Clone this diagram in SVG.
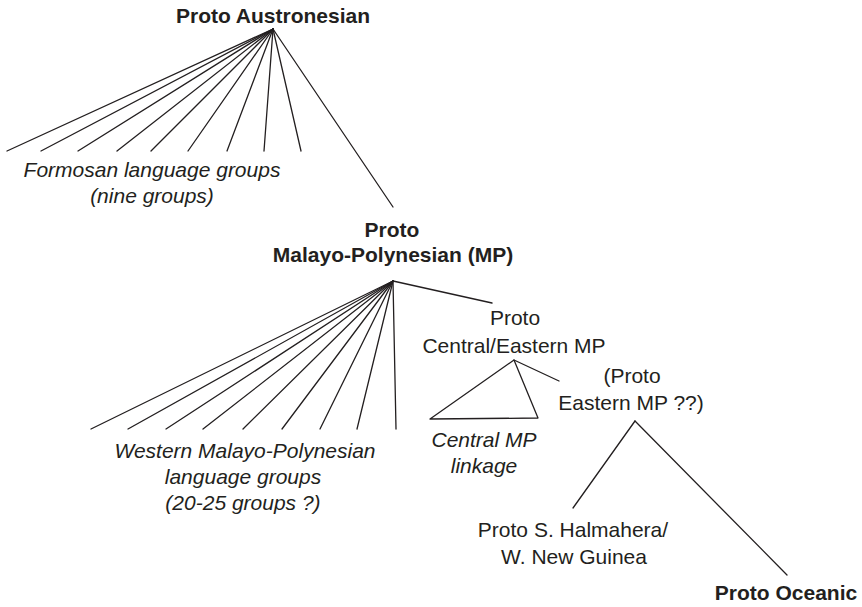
<svg xmlns="http://www.w3.org/2000/svg" width="862" height="607" viewBox="0 0 862 607">
<style>
  text { font-family: "Liberation Sans", Arial, sans-serif; font-size: 21px; fill: #231f20; text-anchor: middle; }
  .b { font-weight: bold; }
  .i { font-style: italic; }
  .c line, .c polyline { stroke: #231f20; stroke-width: 1.3; fill: none; stroke-linecap: round; stroke-linejoin: round; }
</style>
<rect width="862" height="607" fill="#ffffff"/>
<g id="connectors" class="c">
  <line x1="273" y1="29" x2="7" y2="151"/>
  <line x1="273" y1="29" x2="41" y2="151"/>
  <line x1="273" y1="29" x2="78" y2="151"/>
  <line x1="273" y1="29" x2="117" y2="151"/>
  <line x1="273" y1="29" x2="151" y2="151"/>
  <line x1="273" y1="29" x2="188" y2="151"/>
  <line x1="273" y1="29" x2="227" y2="151"/>
  <line x1="273" y1="29" x2="264" y2="151"/>
  <line x1="273" y1="29" x2="301" y2="151"/>
  <line x1="273" y1="29" x2="393" y2="207"/>
  <line x1="393" y1="281" x2="91" y2="429"/>
  <line x1="393" y1="281" x2="128" y2="429"/>
  <line x1="393" y1="281" x2="166" y2="429"/>
  <line x1="393" y1="281" x2="203" y2="429"/>
  <line x1="393" y1="281" x2="243" y2="429"/>
  <line x1="393" y1="281" x2="282" y2="429"/>
  <line x1="393" y1="281" x2="320" y2="429"/>
  <line x1="393" y1="281" x2="357" y2="429"/>
  <line x1="393" y1="281" x2="396" y2="429"/>
  <line x1="393" y1="281" x2="492" y2="303"/>
  <polyline points="430,419 514,360 538,418 430,419"/>
  <line x1="514" y1="360" x2="559" y2="381"/>
  <line x1="635" y1="421" x2="573" y2="508"/>
  <line x1="635" y1="421" x2="787" y2="575"/>
</g>
<g id="proto-austronesian"><text class="b" x="273" y="23">Proto Austronesian</text></g>
<g id="formosan"><text class="i" x="152" y="177">Formosan language groups</text><text class="i" x="152" y="203">(nine groups)</text></g>
<g id="proto-mp"><text class="b" x="392" y="237">Proto</text><text class="b" x="393" y="262">Malayo-Polynesian (MP)</text></g>
<g id="western-mp"><text class="i" x="245" y="458">Western Malayo-Polynesian</text><text class="i" x="243" y="484">language groups</text><text class="i" x="243" y="510">(20-25 groups ?)</text></g>
<g id="proto-cemp"><text x="515" y="325">Proto</text><text x="514" y="353">Central/Eastern MP</text></g>
<g id="central-mp"><text class="i" x="484" y="447">Central MP</text><text class="i" x="484" y="473">linkage</text></g>
<g id="proto-emp"><text x="632" y="383">(Proto</text><text x="631" y="410">Eastern MP ??)</text></g>
<g id="proto-shwng"><text x="573" y="537">Proto S. Halmahera/</text><text x="574" y="564">W. New Guinea</text></g>
<g id="proto-oceanic"><text class="b" x="786" y="600">Proto Oceanic</text></g>
</svg>
